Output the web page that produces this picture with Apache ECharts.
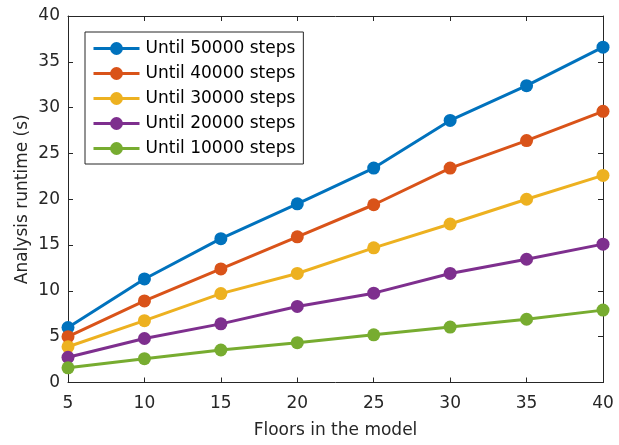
<!DOCTYPE html>
<html><head><meta charset="utf-8">
<script src="https://cdn.jsdelivr.net/npm/echarts@6/dist/echarts.min.js"></script>
<style>html,body{margin:0;padding:0;background:#fff}#c{width:619px;height:445px}</style>
</head><body><div id="c"></div>
<script>
const floors = [5, 10, 15, 20, 25, 30, 35, 40];
const s50000 = [6.0, 11.3, 15.7, 19.5, 23.4, 28.6, 32.4, 36.6];
const s40000 = [5.0, 8.9, 12.4, 15.9, 19.4, 23.4, 26.4, 29.6];
const s30000 = [3.9, 6.75, 9.7, 11.9, 14.7, 17.3, 20.0, 22.6];
const s20000 = [2.75, 4.8, 6.4, 8.3, 9.75, 11.9, 13.45, 15.1];
const s10000 = [1.6, 2.6, 3.55, 4.35, 5.2, 6.05, 6.9, 7.9];
const names = ['Until 50000 steps','Until 40000 steps','Until 30000 steps','Until 20000 steps','Until 10000 steps'];
const colors = ['#0072BD','#D95319','#EDB120','#7E2F8E','#77AC30'];
const allSeries = [s50000, s40000, s30000, s20000, s10000];

const font = 'DejaVu Sans, sans-serif';
const fs = 17;
const axisColor = '#262626';
const chart = echarts.init(document.getElementById('c'), null, {renderer:'canvas'});
const baseAxis = {
  axisLine:{show:true, onZero:false, lineStyle:{color:axisColor, width:1}},
  axisTick:{show:true, inside:true, length:5, lineStyle:{color:axisColor}},
  splitLine:{show:false},
};
chart.setOption({
  animation:false,
  backgroundColor:'#fff',
  color: colors,
  grid:{left:68, right:16, top:16, bottom:62.5},
  legend:{
    left:85, top:32, orient:'vertical',
    itemWidth:46, itemHeight:16, itemGap:8,
    backgroundColor:'#fff', borderColor:axisColor, borderWidth:1,
    padding:[8,8,7,7],
    lineStyle:{width:3},
    textStyle:{fontFamily:font, fontSize:fs, color:'#000', padding:[0,0,0,1]},
    data: names
  },
  xAxis:[
    Object.assign({type:'value', min:5, max:40, interval:5, position:'bottom',
      name:'Floors in the model', nameLocation:'middle', nameGap:40, nameMoveOverlap:false,
      nameTextStyle:{fontFamily:font, fontSize:fs, color:axisColor},
      axisLabel:{fontFamily:font, fontSize:fs, color:axisColor, margin:13}}, baseAxis),
    Object.assign({type:'value', min:5, max:40, interval:5, position:'top',
      axisLabel:{show:false}}, baseAxis)
  ],
  yAxis:[
    Object.assign({type:'value', min:0, max:40, interval:5, position:'left',
      name:'Analysis runtime (s)', nameLocation:'middle', nameGap:37, nameMoveOverlap:false,
      nameTextStyle:{fontFamily:font, fontSize:fs, color:axisColor},
      axisLabel:{fontFamily:font, fontSize:fs, color:axisColor, margin:8}}, baseAxis),
    Object.assign({type:'value', min:0, max:40, interval:5, position:'right',
      axisLabel:{show:false}}, baseAxis)
  ],
  series: allSeries.map((vals, i) => ({
    name: names[i], type:'line', xAxisIndex:0, yAxisIndex:0,
    data: floors.map((f, j) => [f, vals[j]]),
    symbol:'circle', symbolSize:13,
    lineStyle:{width:3, color:colors[i]},
    itemStyle:{color:colors[i]},
    clip:false
  }))
});
</script></body></html>
